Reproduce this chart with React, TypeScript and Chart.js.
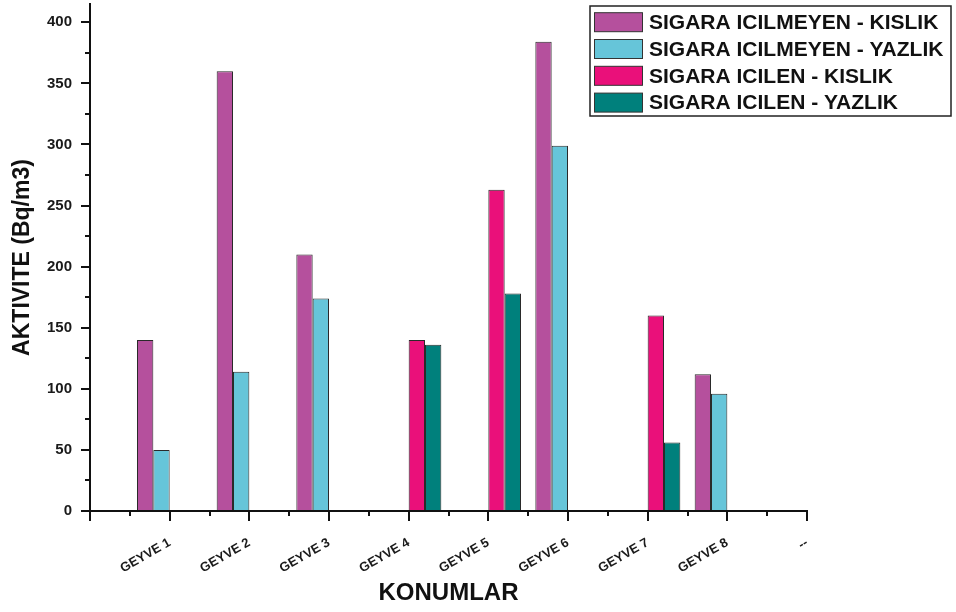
import React, { useEffect, useRef } from "react";
import { Chart, registerables } from "chart.js";

Chart.register(...registerables);

const categories = ["", "GEYVE 1", "GEYVE 2", "GEYVE 3", "GEYVE 4", "GEYVE 5", "GEYVE 6", "GEYVE 7", "GEYVE 8", "--"];
const nonSmokerWinter = [null, 140, 360, 210, null, null, 384, null, 112, null];
const nonSmokerSummer = [null, 50, 114, 174, null, null, 299, null, 96, null];
const smokerWinter = [null, null, null, null, 140, 263, null, 160, null, null];
const smokerSummer = [null, null, null, null, 136, 178, null, 56, null, null];
const seriesLabels = [
  "SIGARA ICILMEYEN - KISLIK",
  "SIGARA ICILMEYEN - YAZLIK",
  "SIGARA ICILEN - KISLIK",
  "SIGARA ICILEN - YAZLIK",
];
const seriesColors = ["#B5509D", "#66C5D9", "#EA107A", "#00807C"];
const yMin = 0;
const yMax = 415;
const yStep = 50;
const yMinorValues = [25, 75, 125, 175, 225, 275, 325, 375];
const xMinorValues = [0.5, 1.5, 2.5, 3.5, 4.5, 5.5, 6.5, 7.5, 8.5];

const FONT = "'Liberation Sans', Arial, Helvetica, sans-serif";

const minorTicksPlugin = {
  id: "minorTicks",
  afterDraw(chart: any) {
    const ctx = chart.ctx;
    const ys = chart.scales.y;
    const xs = chart.scales.x;
    const area = chart.chartArea;
    ctx.save();
    ctx.strokeStyle = "#111";
    ctx.lineWidth = 2;
    ctx.beginPath();
    yMinorValues.forEach((v) => {
      const py = Math.round(ys.getPixelForValue(v));
      ctx.moveTo(area.left - 5, py);
      ctx.lineTo(area.left, py);
    });
    xMinorValues.forEach((v) => {
      const px = Math.round(xs.getPixelForValue(v));
      ctx.moveTo(px, area.bottom);
      ctx.lineTo(px, area.bottom + 5);
    });
    ctx.stroke();
    ctx.restore();
  },
};

const boxLegendPlugin = {
  id: "boxLegend",
  afterDraw(chart: any) {
    const ctx = chart.ctx;
    const ds = chart.data.datasets;
    const right = chart.width - 5;
    const left = right - 361;
    const top = 6;
    const rowH = 26.8;
    const height = 110;
    ctx.save();
    ctx.fillStyle = "#ffffff";
    ctx.fillRect(left, top, right - left, height);
    ctx.strokeStyle = "#222";
    ctx.lineWidth = 1.5;
    ctx.strokeRect(left, top, right - left, height);
    ctx.font = `bold 21px ${FONT}`;
    ctx.textBaseline = "middle";
    ctx.textAlign = "left";
    ds.forEach((d: any, i: number) => {
      const cy = top + 16.2 + i * rowH;
      ctx.fillStyle = d.backgroundColor;
      ctx.fillRect(left + 4, cy - 9.5, 48, 19);
      ctx.strokeStyle = "#333";
      ctx.lineWidth = 1;
      ctx.strokeRect(left + 4.5, cy - 9.5, 48, 19);
      ctx.fillStyle = "#111";
      ctx.fillText(d.label, left + 59, cy + 1);
    });
    ctx.restore();
  },
};

export default function App() {
  const canvasRef = useRef<HTMLCanvasElement | null>(null);

  useEffect(() => {
    const canvas = canvasRef.current;
    if (!canvas) return;
    const seriesData = [nonSmokerWinter, nonSmokerSummer, smokerWinter, smokerSummer];
    const chart = new Chart(canvas, {
      type: "bar",
      data: {
        labels: categories,
        datasets: seriesData.map((values, i) => ({
          label: seriesLabels[i],
          data: values,
          backgroundColor: seriesColors[i],
          borderColor: "#2a2a2a",
          borderWidth: 1,
          categoryPercentage: 0.82,
          barPercentage: 1,
        })),
      },
      options: {
        responsive: false,
        animation: false,
        devicePixelRatio: 1,
        layout: { padding: { top: 4, right: 149, bottom: 0, left: 0 } },
        plugins: {
          legend: { display: false },
          tooltip: { enabled: false },
        },
        scales: {
          x: {
            type: "category",
            offset: false,
            grid: {
              offset: false,
              drawOnChartArea: false,
              drawTicks: true,
              tickLength: 10,
              color: "#111",
              lineWidth: 2,
            },
            border: { display: true, color: "#111", width: 2 },
            ticks: {
              autoSkip: false,
              minRotation: 30,
              maxRotation: 30,
              padding: 14,
              color: "#1a1a1a",
              font: { family: FONT, size: 13, weight: "bold" },
            },
            title: {
              display: true,
              text: "KONUMLAR",
              color: "#111",
              font: { family: FONT, size: 24, weight: "bold" },
              padding: { top: 0, bottom: 4 },
            },
            afterFit(scale: any) {
              scale.height = 101;
              scale.paddingLeft = 0;
              scale.paddingRight = 0;
            },
          },
          y: {
            type: "linear",
            min: yMin,
            max: yMax,
            grid: {
              drawOnChartArea: false,
              drawTicks: true,
              tickLength: 9,
              color: "#111",
              lineWidth: 2,
            },
            border: { display: true, color: "#111", width: 2 },
            ticks: {
              stepSize: yStep,
              includeBounds: false,
              padding: 9,
              color: "#1a1a1a",
              font: { family: FONT, size: 15, weight: "bold" },
            },
            title: {
              display: true,
              text: "AKTIVITE (Bq/m3)",
              color: "#111",
              font: { family: FONT, size: 23, weight: "bold" },
              padding: { top: 9, bottom: 0 },
            },
            afterFit(scale: any) {
              scale.width = 90;
              scale.paddingTop = 0;
              scale.paddingBottom = 0;
            },
          },
        },
      },
      plugins: [minorTicksPlugin, boxLegendPlugin],
    });
    return () => chart.destroy();
  }, []);

  return (
    <div style={{ position: "fixed", left: 0, top: 0, width: 956, height: 612, background: "#fff" }}>
      <canvas ref={canvasRef} width={956} height={612} style={{ display: "block" }} />
    </div>
  );
}
